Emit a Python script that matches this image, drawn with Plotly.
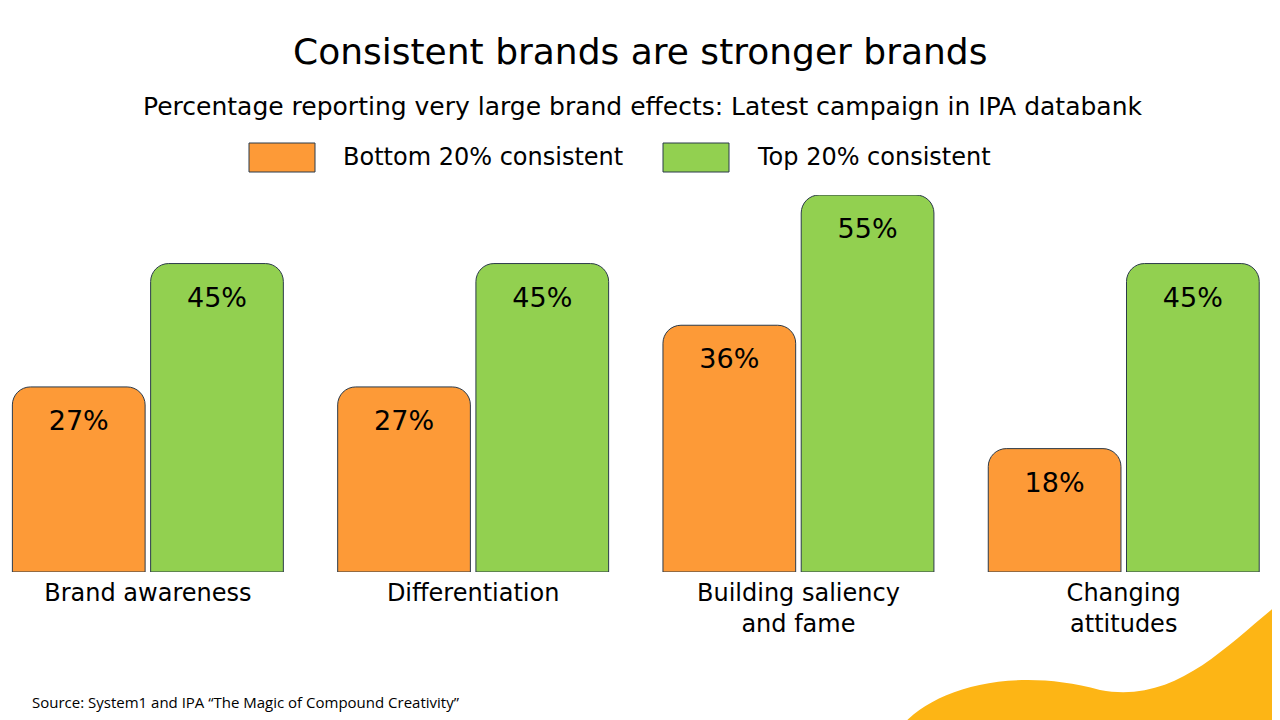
import plotly.graph_objects as go

categories = ["Brand awareness", "Differentiation", "Building saliency<br>and fame", "Changing<br>attitudes"]
bottom_20 = [27, 27, 36, 18]
top_20 = [45, 45, 55, 45]

ORANGE = "#FD9A37"
GREEN = "#92D050"
FONT = "DejaVu Sans"

# the page adds ~8px of body margin, so positions are given in screen pixels and shifted
OFF = 8
T, B = 195 - OFF, 720 - (572 - OFF)
PH = 720 - T - B

fig = go.Figure()
fig.add_trace(go.Bar(x=categories, y=bottom_20, name="Bottom 20% consistent",
                     marker=dict(color=ORANGE, line=dict(color="#2b3a4a", width=1), cornerradius=18),
                     text=[f"{v}%" for v in bottom_20], textposition="inside", insidetextanchor="end",
                     textfont=dict(size=27, color="black", family=FONT)))
fig.add_trace(go.Bar(x=categories, y=top_20, name="Top 20% consistent",
                     marker=dict(color=GREEN, line=dict(color="#2b3a4a", width=1), cornerradius=18),
                     text=[f"{v}%" for v in top_20], textposition="inside", insidetextanchor="end",
                     textfont=dict(size=27, color="black", family=FONT)))

fig.update_layout(
    width=1280, height=720, showlegend=False,
    barmode="group", bargap=0.15, bargroupgap=0.04,
    margin=dict(l=0, r=0, t=T, b=B, autoexpand=False),
    plot_bgcolor="white", paper_bgcolor="white",
    font=dict(family=FONT, color="black"),
    uniformtext=dict(minsize=20, mode="show"),
)
fig.update_xaxes(range=[-0.43, 3.505], showline=False, showgrid=False, ticks="",
                 tickfont=dict(size=24, family=FONT), ticklabelstandoff=4)
fig.update_yaxes(range=[0, 55], visible=False)


def px(p):
    return (p - OFF) / 1280


def py(p):
    return 1 - (p - OFF - T) / PH


# title and subtitle
fig.add_annotation(text="Consistent brands are stronger brands", x=px(640), y=py(52), xref="paper", yref="paper",
                   yanchor="middle", showarrow=False, font=dict(size=36))
fig.add_annotation(text="Percentage reporting very large brand effects: Latest campaign in IPA databank",
                   x=px(642), y=py(106), xref="paper", yref="paper", yanchor="middle",
                   showarrow=False, font=dict(size=25))

# legend swatches
for x0, color, label in [(249, ORANGE, "Bottom 20% consistent"), (663, GREEN, "Top 20% consistent")]:
    fig.add_shape(type="rect", xref="paper", yref="paper",
                  x0=px(x0), x1=px(x0 + 66), y0=py(172), y1=py(143),
                  fillcolor=color, line=dict(color="#2b3a4a", width=1))
    fig.add_annotation(text=label, xref="paper", yref="paper", x=px(x0 + 92),
                       y=py(157), xanchor="left", yanchor="middle", showarrow=False, font=dict(size=24))

# source
fig.add_annotation(text="Source: System1 and IPA \u201cThe Magic of Compound Creativity\u201d",
                   xref="paper", yref="paper", x=px(30), y=py(702), xanchor="left", yanchor="middle",
                   showarrow=False, font=dict(size=15, family="Open Sans"))

# decorative blob bottom right
fig.add_shape(type="path", xref="paper", yref="paper", layer="below",
              path=f"M {px(900)} {py(728)} C {px(930)} {py(690)}, {px(1010)} {py(665)}, {px(1100)} {py(690)} "
                   f"C {px(1180)} {py(705)}, {px(1230)} {py(640)}, {px(1290)} {py(595)} L {px(1290)} {py(728)} Z",
              fillcolor="#FDB515", line=dict(width=0))

fig.write_html("out.html")
